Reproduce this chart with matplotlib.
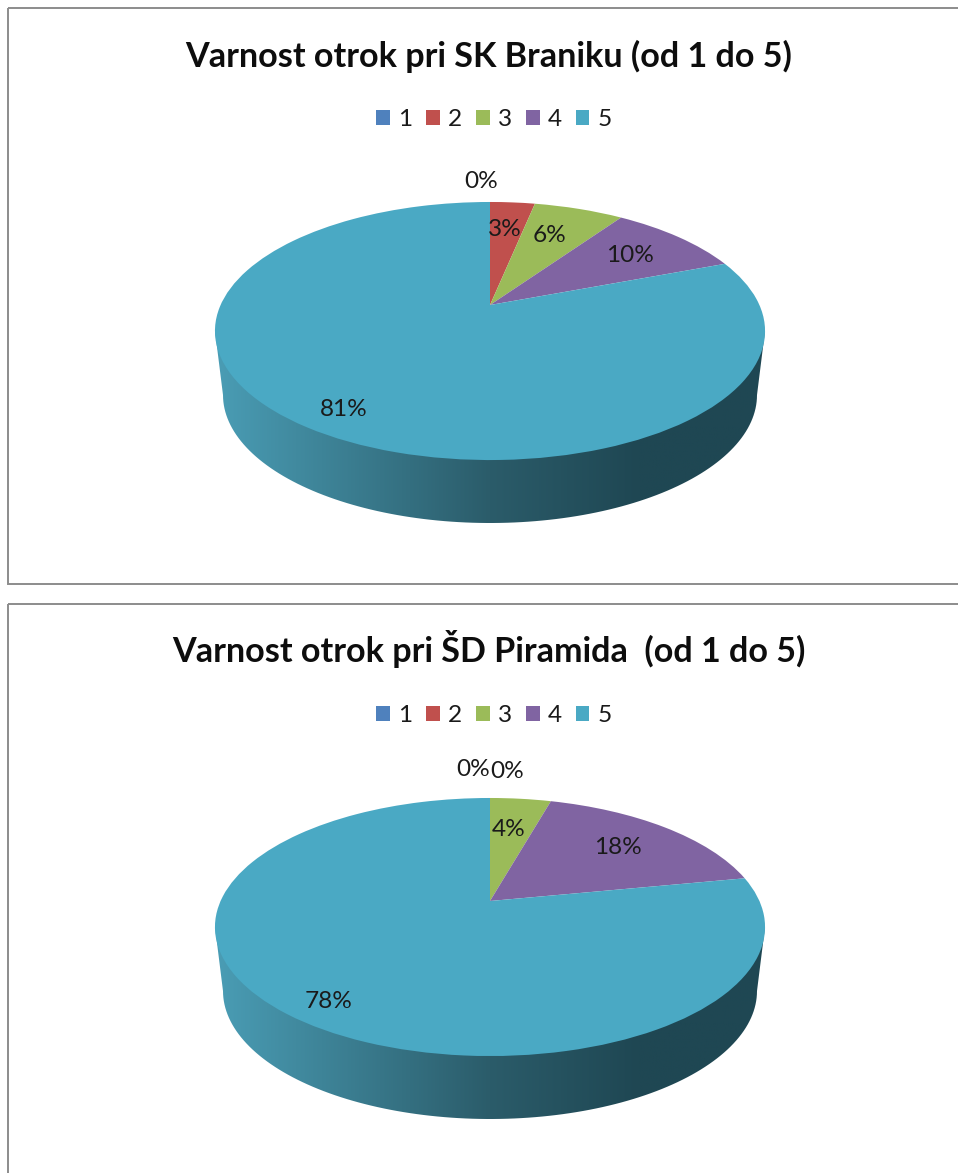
import numpy as np
import matplotlib
matplotlib.use("Agg")
import matplotlib.pyplot as plt
from matplotlib.colors import LinearSegmentedColormap
from matplotlib.patches import Polygon, Rectangle
from matplotlib.transforms import Transform

categories = ["1", "2", "3", "4", "5"]
colors = ["#4F81BD", "#C0504D", "#9BBB59", "#8064A2", "#4AA9C4"]

title_braniku = "Varnost otrok pri SK Braniku (od 1 do 5)"
values_braniku = [0, 3.2, 6.4, 9.6, 80.8]
label_pos_braniku = [(481, 181), (505, 230), (550, 235), (630, 256), (344, 410)]

title_piramida = "Varnost otrok pri ŠD Piramida  (od 1 do 5)"
values_piramida = [0, 0, 4.35, 17.6, 78.05]
label_pos_piramida = [(473, 174), (507, 176), (509, 234), (618, 252), (329, 405)]

FIG_W, FIG_H = 958, 1173
PANEL_H = 596
FONT = "Lato"

plt.rcParams["font.family"] = [FONT, "DejaVu Sans"]

wall_cmap = LinearSegmentedColormap.from_list(
    "wall",
    [(0.0, "#4A9DB5"), (0.5, "#2B5C6A"), (0.77, "#1F4753"), (1.0, "#1F4753")],
)


class PieProjection(Transform):
    """Perspective view of the unit circle, output in panel pixels."""

    input_dims = 2
    output_dims = 2
    is_separable = False
    has_inverse = False

    def transform_non_affine(self, values):
        values = np.asarray(values)
        x, y = values[:, 0], values[:, 1]
        w = 1 + 0.2016 * y
        return np.column_stack((490 + 269.4 * x / w, (305 - 62.3 * y) / w))


def draw_side(ax):
    t = np.linspace(0, np.pi, 120)
    arc = np.column_stack((490 - 267 * np.cos(t), 395 + 128 * np.sin(t)))
    outline = np.vstack(([(215, 331)], arc, [(765, 331)]))
    clip = Polygon(outline, transform=ax.transData)
    gradient = np.linspace(0, 1, 256).reshape(1, -1)
    image = ax.imshow(
        gradient, cmap=wall_cmap, extent=(215, 765, 525, 330), aspect="auto", zorder=0
    )
    image.set_clip_path(clip)


def draw_panel(ax, title, values, label_pos, title_y):
    draw_side(ax)
    wedges, _ = ax.pie(values, colors=colors, startangle=90, counterclock=False)
    projection = PieProjection() + ax.transData
    for wedge in wedges:
        wedge.set_transform(projection)
        wedge.set_zorder(1)

    ax.set_aspect("auto")
    ax.set_xlim(0, FIG_W)
    ax.set_ylim(ax.get_position().height * FIG_H, 0)
    ax.axis("off")

    ax.add_patch(
        Rectangle((8.5, 8), 1000, 576, fill=False, edgecolor="#8C8C8C", linewidth=1.4)
    )
    ax.text(
        489, title_y, title, ha="center", va="baseline",
        fontsize=24.6, fontweight="bold", color="#0D0D0D",
    )
    for value, (x, y) in zip(values, label_pos):
        ax.text(
            x, y, f"{value:.0f}%", ha="center", va="center",
            fontsize=17.6, color="#1A1A1A", zorder=3,
        )

    ax.legend(
        wedges, categories, ncol=5, loc="center",
        bbox_to_anchor=(494, 119.5), bbox_transform=ax.transData,
        frameon=False, fontsize=17.6, labelcolor="#1A1A1A",
        handlelength=0.57, handleheight=0.57, handletextpad=0.33,
        columnspacing=0.56, borderpad=0, borderaxespad=0,
    )


fig = plt.figure(figsize=(FIG_W / 100, FIG_H / 100), dpi=100)
lower_h = (FIG_H - PANEL_H) / FIG_H
ax_top = fig.add_axes([0, lower_h, 1, PANEL_H / FIG_H])
ax_bottom = fig.add_axes([0, 0, 1, lower_h])

draw_panel(ax_top, title_braniku, values_braniku, label_pos_braniku, 67)
draw_panel(ax_bottom, title_piramida, values_piramida, label_pos_piramida, 66)

fig.savefig("out.png", dpi=100)
plt.close(fig)
